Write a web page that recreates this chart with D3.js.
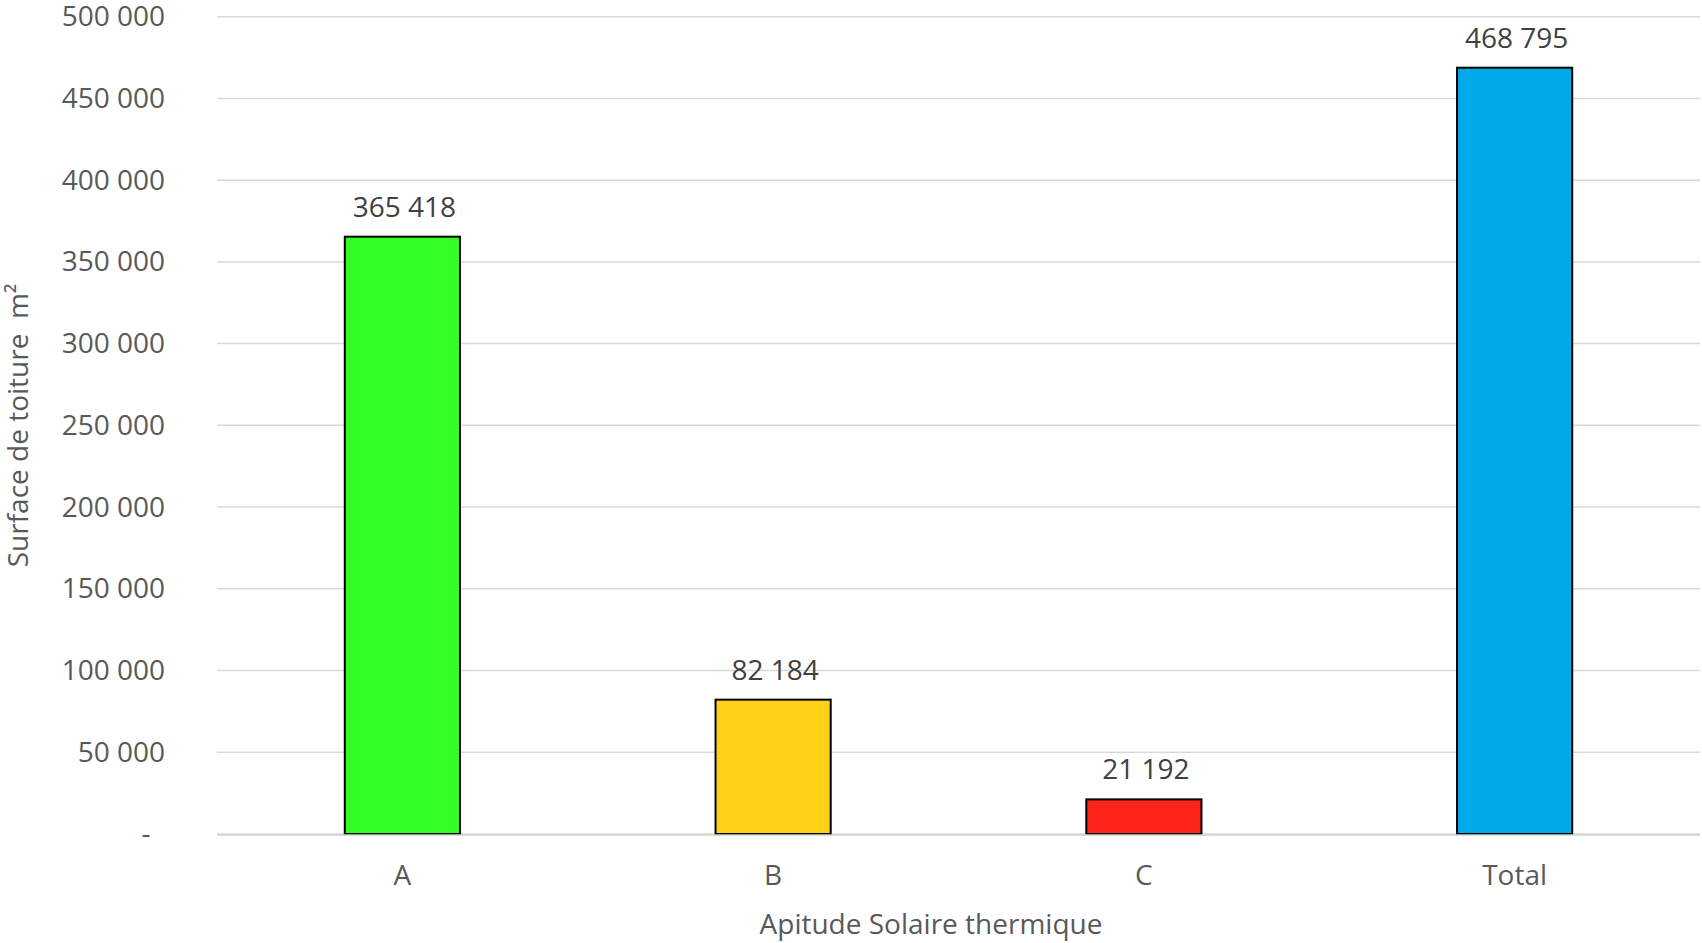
<!DOCTYPE html>
<html>
<head>
<meta charset="utf-8">
<script src="https://cdn.jsdelivr.net/npm/d3@7"></script>
<style>
  html, body { margin: 0; padding: 0; background: #fff; }
  svg { display: block; font-family: "Open Sans", sans-serif; }
</style>
</head>
<body>
<svg id="chart" width="1702" height="943"></svg>
<script>
const categories = ["A", "B", "C", "Total"];
const values = [365418, 82184, 21192, 468795];
const colors = ["#33FF24", "#FFD117", "#FF2419", "#00AAE9"];
const yTicks = [0, 50000, 100000, 150000, 200000, 250000, 300000, 350000, 400000, 450000, 500000];
const xTitle = "Apitude Solaire thermique";
const yTitle = "Surface de toiture\u00A0\u00A0m²";

const svg = d3.select("#chart");
const W = 1702, H = 943;
const m = { left: 217, right: 2, top: 16.7, bottom: 109 };

const x = d3.scaleBand().domain(categories)
  .range([m.left, W - m.right]).paddingInner(0.684).paddingOuter(0.342);
const y = d3.scaleLinear().domain([0, 500000]).range([H - m.bottom, m.top]);

const loc = d3.formatLocale({ decimal: ",", thousands: " ", grouping: [3], currency: ["", ""] });
const fmt = loc.format(",d");

// gridlines
svg.append("g")
  .selectAll("line").data(yTicks).join("line")
  .attr("x1", m.left).attr("x2", W - m.right)
  .attr("y1", d => y(d)).attr("y2", d => y(d))
  .attr("stroke", "#D9D9D9").attr("stroke-width", 1.5);

// y axis labels
const yAxis = d3.axisLeft(y).tickValues(yTicks).tickSize(0).tickPadding(52)
  .tickFormat(d => d === 0 ? "-\u00A0\u00A0" : fmt(d));
const gy = svg.append("g").attr("transform", `translate(${m.left},0)`).call(yAxis);
gy.select(".domain").remove();
gy.selectAll("text").attr("font-size", 28).attr("fill", "#595959")
  .attr("font-family", "Open Sans, sans-serif");

// bars
svg.append("g").selectAll("rect").data(categories).join("rect")
  .attr("x", d => x(d) + 1)
  .attr("width", x.bandwidth() - 2)
  .attr("y", (d, i) => y(values[i]))
  .attr("height", (d, i) => y(0) - y(values[i]))
  .attr("fill", (d, i) => colors[i])
  .attr("stroke", "#000").attr("stroke-width", 2);

// baseline over bars
svg.append("line")
  .attr("x1", m.left).attr("x2", W - m.right)
  .attr("y1", y(0) + 1).attr("y2", y(0) + 1)
  .attr("stroke", "#D0D0D0").attr("stroke-width", 1.5);

// value labels
svg.append("g").selectAll("text").data(categories).join("text")
  .attr("x", d => x(d) + x.bandwidth() / 2 + 2)
  .attr("y", (d, i) => y(values[i]) - 20)
  .attr("text-anchor", "middle")
  .attr("font-size", 28).attr("fill", "#404040")
  .text((d, i) => fmt(values[i]));

// x axis labels
const xAxis = d3.axisBottom(x).tickSize(0).tickPadding(0);
const gx = svg.append("g").attr("transform", `translate(0,${y(0)})`).call(xAxis);
gx.select(".domain").remove();
gx.selectAll("text").attr("font-size", 28).attr("fill", "#595959")
  .attr("font-family", "Open Sans, sans-serif")
  .attr("dy", null).attr("y", 51);

// axis titles
svg.append("text")
  .attr("x", 931).attr("y", 934)
  .attr("text-anchor", "middle").attr("font-size", 28).attr("fill", "#595959")
  .text(xTitle);

svg.append("text")
  .attr("transform", `translate(28,${(y(0) + y(500000)) / 2}) rotate(-90)`)
  .attr("text-anchor", "middle").attr("font-size", 28).attr("fill", "#595959")
  .text(yTitle);
</script>
</body>
</html>
